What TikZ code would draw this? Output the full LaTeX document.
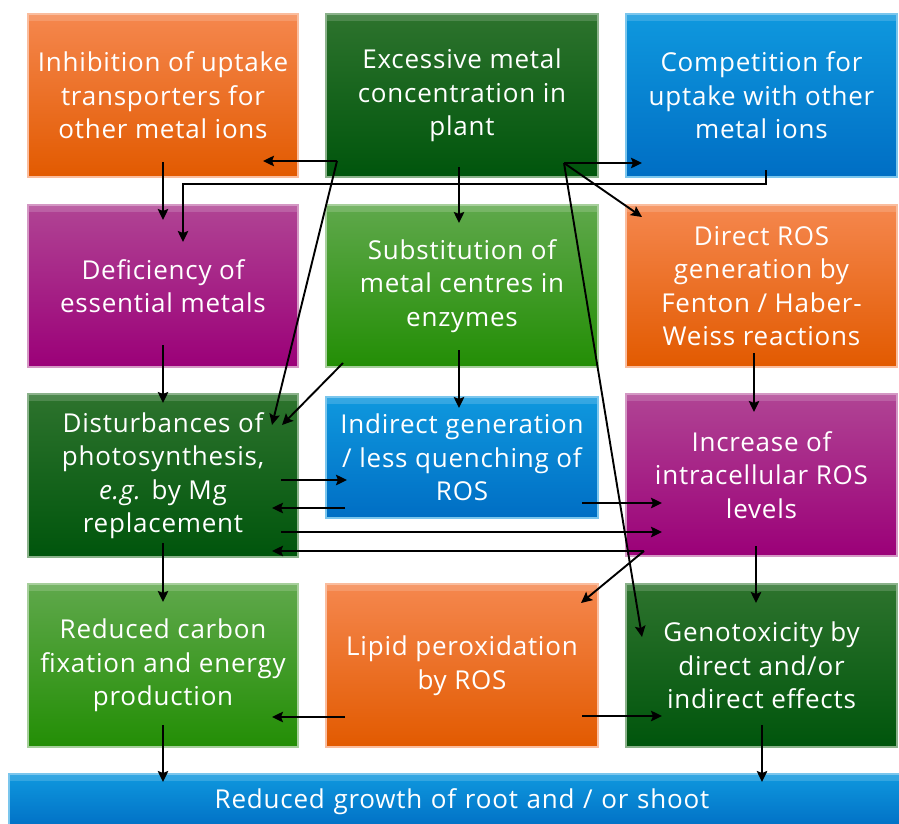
\documentclass[tikz,border=0pt]{standalone}
\usepackage{fontspec}
\setmainfont{Open Sans}[LetterSpace=3]
\usetikzlibrary{arrows.meta}
\definecolor{orT}{RGB}{245,135,78}
\definecolor{orB}{RGB}{226,90,0}
\definecolor{dgT}{RGB}{45,115,45}
\definecolor{dgB}{RGB}{0,85,12}
\definecolor{blT}{RGB}{15,152,222}
\definecolor{blB}{RGB}{0,110,196}
\definecolor{puT}{RGB}{176,68,148}
\definecolor{puB}{RGB}{155,0,120}
\definecolor{lgT}{RGB}{95,168,75}
\definecolor{lgB}{RGB}{35,142,5}
\begin{document}
\begin{tikzpicture}[x=1pt,y=-1pt,
  box/.style={rectangle, inner sep=0pt, align=center, text=white,
    font=\fontsize{26}{33.5}\selectfont, line width=1.2pt,
    path picture={\fill[white,opacity=0.16] (path picture bounding box.north west) rectangle ([yshift=-7pt]path picture bounding box.north east);}},
  orbox/.style={box, top color=orT, bottom color=orB, draw=orT!55!white},
  dgbox/.style={box, top color=dgT, bottom color=dgB, draw=dgT!55!white},
  blbox/.style={box, top color=blT, bottom color=blB, draw=blT!55!white},
  pubox/.style={box, top color=puT, bottom color=puB, draw=puT!55!white},
  lgbox/.style={box, top color=lgT, bottom color=lgB, draw=lgT!55!white},
  arr/.style={line width=1.9pt, -{Stealth[length=11pt,width=10.5pt,inset=2pt]}},
  ln/.style={line width=1.9pt}]
\useasboundingbox (0,0) rectangle (899,824);
% row 1
\node[orbox, minimum width=270pt, minimum height=163pt] (inh) at (163,95.5) {Inhibition of uptake\\transporters for\\other metal ions};
\node[dgbox, minimum width=272pt, minimum height=163pt] (exc) at (462,95.5) {Excessive metal\\concentration in\\plant};
\node[blbox, minimum width=271pt, minimum height=163pt] (comp) at (761.5,95.5) {Competition for\\uptake with other\\metal ions};
% row 2
\node[pubox, minimum width=270pt, minimum height=162pt] (def) at (163,286) {Deficiency of\\essential metals};
\node[lgbox, minimum width=272pt, minimum height=162pt] (sub) at (462,286) {Substitution of\\metal centres in\\enzymes};
\node[orbox, minimum width=271pt, minimum height=162pt] (dir) at (761.5,286) {Direct ROS\\generation by\\Fenton / Haber-\\Weiss reactions};
% row 3
\node[dgbox, minimum width=270pt, minimum height=163pt] (dist) at (163,475.5) {Disturbances of\\photosynthesis,\\\textit{e.g.} by Mg\\replacement};
\node[blbox, minimum width=272pt, minimum height=121pt] (ind) at (462,457.5) {Indirect generation\\/ less quenching of\\ROS};
\node[pubox, minimum width=271pt, minimum height=162pt] (inc) at (761.5,475) {Increase of\\intracellular ROS\\levels};
% row 4
\node[lgbox, minimum width=270pt, minimum height=163pt] (red) at (163,665.5) {Reduced carbon\\fixation and energy\\production};
\node[orbox, minimum width=272pt, minimum height=163pt] (lip) at (462,665.5) {Lipid peroxidation\\by ROS};
\node[dgbox, minimum width=271pt, minimum height=163pt] (gen) at (761.5,665.5) {Genotoxicity by\\direct and/or\\indirect effects};
% bottom bar
\node[blbox, minimum width=900pt, minimum height=56pt, text width=900pt] (bar) at (459,802) {\hspace*{6pt}Reduced growth of root and / or shoot};
% named end points
\coordinate (b1) at (337,161);
\coordinate (b2) at (564,163);
\coordinate (b3) at (644,551);
\coordinate (c1) at (766,170);
\coordinate (c2) at (766,184);
\coordinate (c3) at (183,184);
% connectors
\draw[arr] (b1) -- (263,161);
\draw[arr] (b1) -- (272,425);
\draw[arr] (459,167) -- (459,223);
\draw[arr] (b2) -- (642,163);
\draw[arr] (b2) -- (642,217);
\draw[arr] (b2) -- (642,637);
\draw[arr] (c1) -- (c2) -- (c3) -- (183,242);
\draw[arr] (163,162) -- (163,220);
\draw[arr] (163,345) -- (163,403);
\draw[arr] (343,363) -- (282,425);
\draw[arr] (459,350) -- (459,408);
\draw[arr] (281,480) -- (347,480);
\draw[arr] (345,508) -- (272,508);
\draw[arr] (281,532) -- (662,532);
\draw[arr] (b3) -- (272,551);
\draw[arr] (b3) -- (581,603);
\draw[arr] (582,503) -- (662,503);
\draw[arr] (754,353) -- (754,412);
\draw[arr] (756,546) -- (756,603);
\draw[arr] (345,717) -- (272,717);
\draw[arr] (582,716) -- (662,716);
\draw[arr] (163,543) -- (163,602);
\draw[arr] (163,725) -- (163,782);
\draw[arr] (762,725) -- (762,782);
\end{tikzpicture}
\end{document}
